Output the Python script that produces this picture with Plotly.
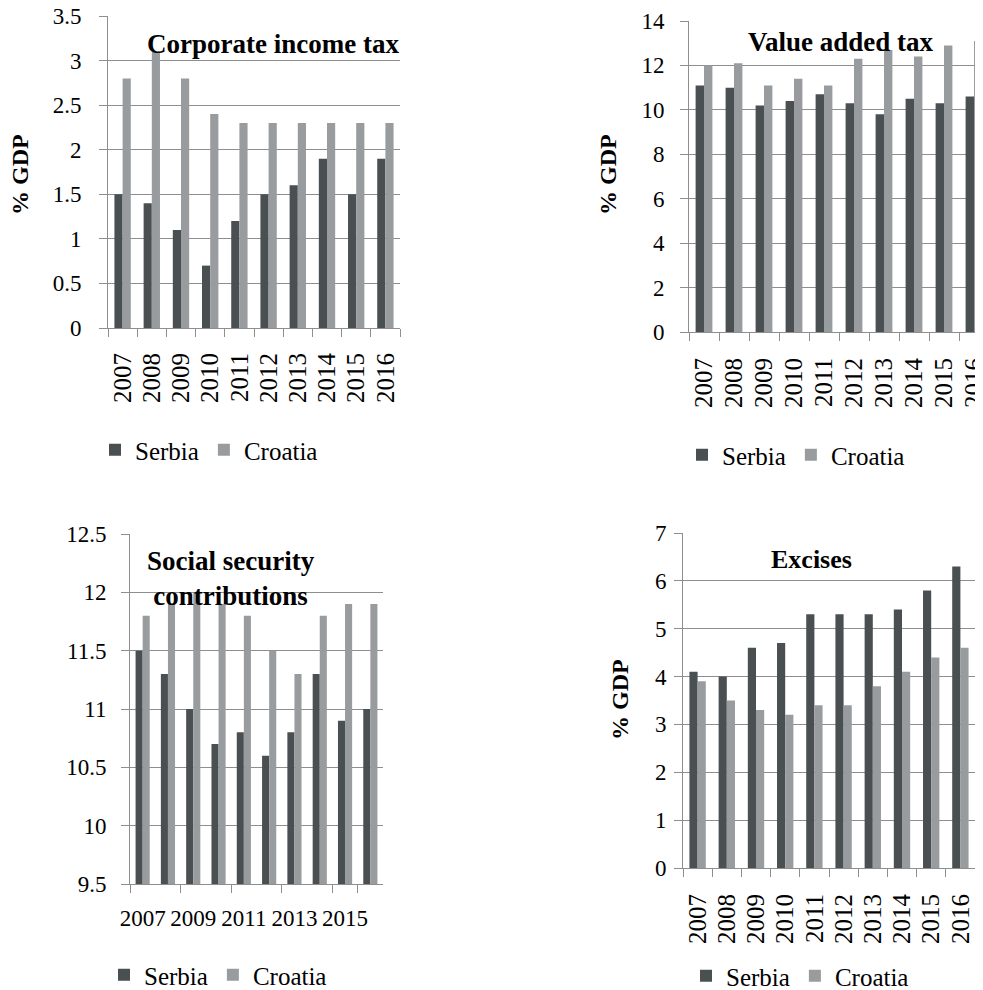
import plotly.graph_objects as go

years = ["2007", "2008", "2009", "2010", "2011", "2012", "2013", "2014", "2015", "2016"]
series_names = ["Serbia", "Croatia"]

cit_serbia = [1.5, 1.4, 1.1, 0.7, 1.2, 1.5, 1.6, 1.9, 1.5, 1.9]
cit_croatia = [2.8, 3.1, 2.8, 2.4, 2.3, 2.3, 2.3, 2.3, 2.3, 2.3]

vat_serbia = [11.1, 11.0, 10.2, 10.4, 10.7, 10.3, 9.8, 10.5, 10.3, 10.6]
vat_croatia = [12.0, 12.1, 11.1, 11.4, 11.1, 12.3, 12.7, 12.4, 12.9, 13.1]

ssc_serbia = [11.5, 11.3, 11.0, 10.7, 10.8, 10.6, 10.8, 11.3, 10.9, 11.0]
ssc_croatia = [11.8, 11.9, 12.0, 11.9, 11.8, 11.5, 11.3, 11.8, 11.9, 11.9]

exc_serbia = [4.1, 4.0, 4.6, 4.7, 5.3, 5.3, 5.3, 5.4, 5.8, 6.3]
exc_croatia = [3.9, 3.5, 3.3, 3.2, 3.4, 3.4, 3.8, 4.1, 4.4, 4.6]

titles = ["Corporate income tax", "Value added tax", "Social security<br>contributions", "Excises"]
y_label = "% GDP"

# page body has an 8px default margin: figure sized to fill the remaining viewport
OFF = 8
W, H = 983 - OFF, 990 - OFF
FONT = "Liberation Serif, Times New Roman, serif"
DARK = "#4a4f52"
LIGHT = "#999c9f"
GRID = "#8e8e8e"

def fx(sx):
    return (sx - OFF) / W

def fy(sy):
    return 1 - (sy - OFF) / H

def px_x(a, b):
    return [max(0, fx(a)), min(1, fx(b))]

def px_y(top, bottom):
    return [fy(bottom), min(1, fy(top))]

panels = [
    dict(data=(cit_serbia, cit_croatia), x=px_x(108, 400), y=px_y(16, 328), yr=[0, 3.5], dt=0.5,
         xr=[-0.5, 9.5], angle=-90, tickvals=years, legend_xy=(95, 450),
         ystand=13, xstand=14),
    dict(data=(vat_serbia, vat_croatia), x=px_x(689, 983), y=px_y(21, 332), yr=[0, 14], dt=2,
         xr=[-0.5, 9.3], angle=-90, tickvals=years, legend_xy=(682, 455),
         ystand=11, xstand=15),
    dict(data=(ssc_serbia, ssc_croatia), x=px_x(130, 383), y=px_y(534, 884), yr=[9.5, 12.5], dt=0.5,
         xr=[-0.5, 9.5], angle=0, tickvals=years[::2], legend_xy=(104, 975),
         ystand=10, xstand=13),
    dict(data=(exc_serbia, exc_croatia), x=px_x(683, 975), y=px_y(533, 868), yr=[0, 7], dt=1,
         xr=[-0.5, 9.5], angle=-90, tickvals=years, legend_xy=(686, 976),
         ystand=3, xstand=15),
]

fig = go.Figure()
layout = dict(
    width=W, height=H, margin=dict(l=0, r=0, t=0, b=0, autoexpand=False),
    paper_bgcolor="white", plot_bgcolor="white",
    font=dict(family=FONT, color="black"),
    barmode="group", showlegend=True,
)

for i, p in enumerate(panels):
    n = i + 1
    xa = "x" if n == 1 else f"x{n}"
    ya = "y" if n == 1 else f"y{n}"
    lg = "legend" if n == 1 else f"legend{n}"
    for name, vals, col in zip(series_names, p["data"], [DARK, LIGHT]):
        fig.add_trace(go.Bar(x=years, y=vals, name=name, marker=dict(color=col, line=dict(width=0)),
                             xaxis=xa, yaxis=ya, legend=lg, offsetgroup=name))
    xkey = "xaxis" if n == 1 else f"xaxis{n}"
    ykey = "yaxis" if n == 1 else f"yaxis{n}"
    layout[xkey] = dict(domain=p["x"], anchor=ya, type="category", range=p["xr"],
                        showline=True, linecolor=GRID, linewidth=1,
                        ticks="outside", tickson="boundaries", ticklen=8, tickcolor=GRID,
                        tickangle=p["angle"], tickvals=p["tickvals"], ticktext=p["tickvals"],
                        tickfont=dict(size=23 if p["angle"] == 0 else 25, family=FONT, color="black"),
                        ticklabelstandoff=p["xstand"], ticklabeloverflow="allow",
                        showgrid=False, fixedrange=True, automargin=False)
    layout[ykey] = dict(domain=p["y"], anchor=xa, range=p["yr"], dtick=p["dt"], tick0=0,
                        showline=True, linecolor=GRID, linewidth=1,
                        ticks="outside", ticklen=8, tickcolor=GRID,
                        showgrid=True, gridcolor=GRID, gridwidth=1, zeroline=False,
                        tickfont=dict(size=23, family=FONT, color="black"),
                        ticklabelstandoff=p["ystand"], ticklabeloverflow="allow",
                        automargin=False, fixedrange=True)
    lx, ly = p["legend_xy"]
    layout[lg] = dict(orientation="h", x=fx(lx), y=fy(ly), xanchor="left", yanchor="middle",
                      font=dict(size=25, family=FONT, color="black"), bgcolor="rgba(0,0,0,0)",
                      itemclick=False, itemdoubleclick=False, tracegroupgap=0)

layout["bargap"] = 0.44
layout["bargroupgap"] = 0

fig.update_layout(**layout)

# chart titles
title_pos = [(273, 44, 27), (841, 42, 27), (231, 578, 27), (811, 559, 26)]
for t, (tx, ty, ts) in zip(titles, title_pos):
    fig.add_annotation(text=f"<b>{t}</b>", x=fx(tx), y=fy(ty), xref="paper", yref="paper",
                       showarrow=False, xanchor="center", yanchor="middle",
                       font=dict(size=ts, family=FONT, color="black"))

# y axis labels
ylab_pos = [(20, 175), (608, 175), (620, 700)]
for (lx, ly) in ylab_pos:
    fig.add_annotation(text=f"<b>{y_label}</b>", x=fx(lx), y=fy(ly), xref="paper", yref="paper",
                       showarrow=False, textangle=-90, xanchor="center", yanchor="middle",
                       font=dict(size=24, family=FONT, color="black"))

fig.write_html("out.html")
